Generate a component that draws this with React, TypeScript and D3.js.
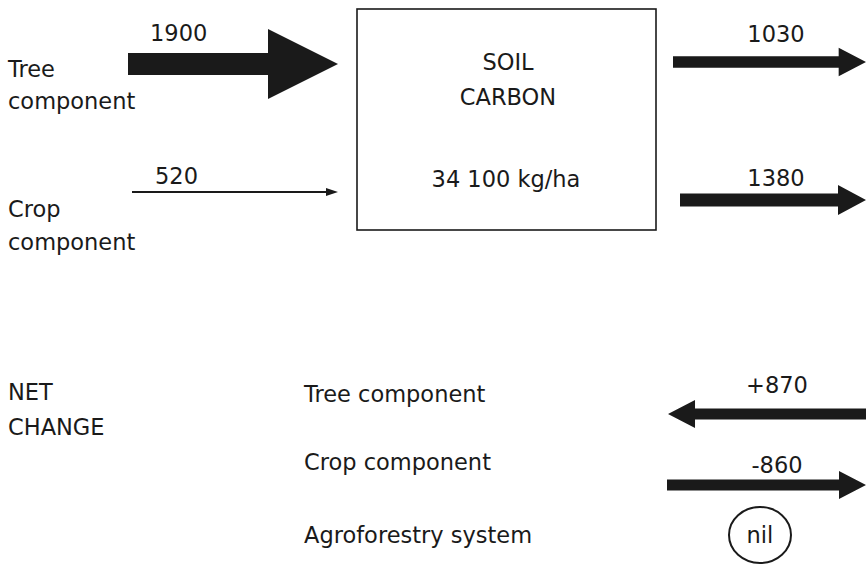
import React from 'react';
import * as d3 from 'd3';

// carbon flows, kg/ha per year
const inputLabels = [['Tree', 'component'], ['Crop', 'component']];
const inputValues = [1900, 520];
const outputValues = [1030, 1380];
const stockTitle = ['SOIL', 'CARBON'];
const stockValue = '34 100 kg/ha';
const netLabels = ['Tree component', 'Crop component', 'Agroforestry system'];
const netValues = ['+870', '-860', 'nil'];

const W = 866;
const H = 569;
const FONT = '"DejaVu Sans", Arial, sans-serif';
const INK = '#1a1a1a';

// arrow size from flow value (the original is not strictly proportional)
const shaftScale = d3.scaleLinear().domain([520, 860, 1380, 1900]).range([2, 11, 13, 22]);
const headHalfScale = d3.scaleLinear().domain([520, 860, 1380, 1900]).range([4, 14, 15, 35]);
const headLenScale = d3.scaleLinear().domain([520, 860, 1380, 1900]).range([12, 27, 28, 70]);

// row positions
const inputRow = d3.scalePoint<number>().domain([0, 1]).range([64, 192]);
const outputRow = d3.scalePoint<number>().domain([0, 1]).range([62, 200]);

function arrowPath(tail: number, tip: number, y: number, value: number) {
  const dir = tip > tail ? 1 : -1;
  const s = shaftScale(value) / 2;
  const hh = headHalfScale(value);
  const hl = headLenScale(value);
  const hx = tip - dir * hl;
  const p = d3.path();
  p.moveTo(tail, y - s);
  p.lineTo(hx, y - s);
  p.lineTo(hx, y - hh);
  p.lineTo(tip, y);
  p.lineTo(hx, y + hh);
  p.lineTo(hx, y + s);
  p.lineTo(tail, y + s);
  p.closePath();
  return p.toString();
}

export default function App() {
  const t = { fontFamily: FONT, fontSize: 22.5, fill: INK };
  const box = { x: 357, y: 9, w: 299, h: 221 };
  return (
    <svg width={W} height={H} style={{ position: 'absolute', left: 0, top: 0, background: '#fff' }}>
      {/* inputs */}
      {inputValues.map((v, i) => {
        const y = inputRow(i)!;
        const thin = v < 600;
        return (
          <g key={'in' + i}>
            {thin ? (
              <g>
                <line x1={132} x2={338 - headLenScale(v)} y1={y} y2={y} stroke={INK} strokeWidth={shaftScale(v)} />
                <path d={arrowPath(338 - headLenScale(v), 338, y, v)} fill={INK} />
              </g>
            ) : (
              <path d={arrowPath(128, 338, y, v)} fill={INK} />
            )}
            <text {...t} x={i === 0 ? 150 : 155} y={i === 0 ? 41 : 184}>{v}</text>
            <text {...t} x={8} y={i === 0 ? 77 : 217}>{inputLabels[i][0]}</text>
            <text {...t} x={8} y={i === 0 ? 109 : 250}>{inputLabels[i][1]}</text>
          </g>
        );
      })}

      {/* soil carbon pool */}
      <rect x={box.x} y={box.y} width={box.w} height={box.h} fill="none" stroke={INK} strokeWidth={1.6} />
      <text {...t} x={508} y={70} textAnchor="middle">{stockTitle[0]}</text>
      <text {...t} x={508} y={105} textAnchor="middle">{stockTitle[1]}</text>
      <text {...t} x={506} y={187} textAnchor="middle">{stockValue}</text>

      {/* outputs */}
      {outputValues.map((v, i) => {
        const y = outputRow(i)!;
        return (
          <g key={'out' + i}>
            <path d={arrowPath(i === 0 ? 673 : 680, 866, y, v)} fill={INK} />
            <text {...t} x={776} y={i === 0 ? 42 : 186} textAnchor="middle">{v}</text>
          </g>
        );
      })}

      {/* net change */}
      <text {...t} x={8} y={400}>NET</text>
      <text {...t} x={8} y={435}>CHANGE</text>
      {netLabels.map((l, i) => (
        <text key={'nl' + i} {...t} x={304} y={i === 0 ? 402 : i === 1 ? 470 : 543}>{l}</text>
      ))}
      {netValues.map((s, i) => {
        const v = Math.abs(+s);
        if (s === 'nil') {
          return (
            <g key={'nv' + i}>
              <ellipse cx={760} cy={535} rx={31} ry={28} fill="none" stroke={INK} strokeWidth={2} />
              <text {...t} x={760} y={543} textAnchor="middle">{s}</text>
            </g>
          );
        }
        const y = i === 0 ? 414 : 485;
        const gain = +s > 0;
        return (
          <g key={'nv' + i}>
            <path d={gain ? arrowPath(866, 668, y, v) : arrowPath(667, 866, y, v)} fill={INK} />
            <text {...t} x={777} y={i === 0 ? 393 : 473} textAnchor="middle">{s}</text>
          </g>
        );
      })}
    </svg>
  );
}
